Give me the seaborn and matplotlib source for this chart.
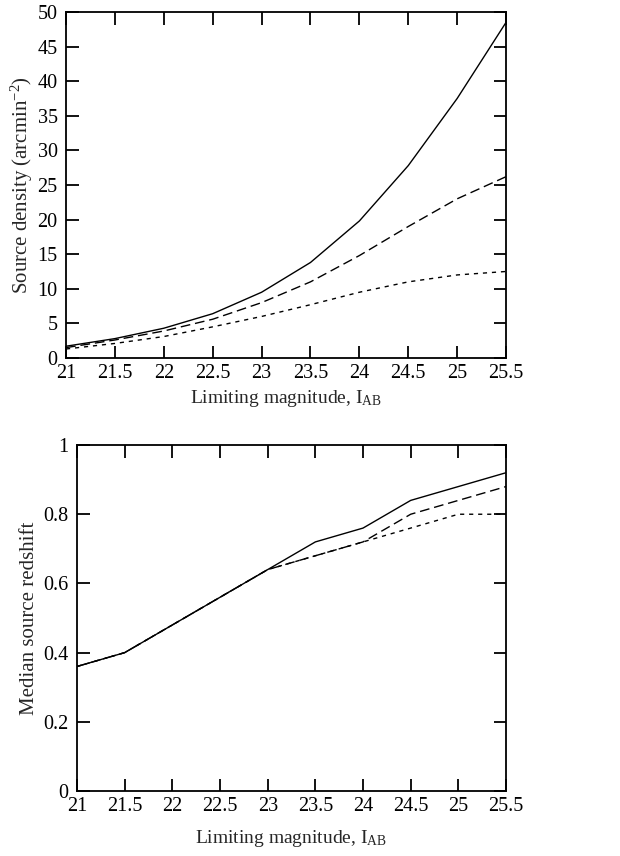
import matplotlib
matplotlib.use("Agg")
import matplotlib.pyplot as plt
import seaborn as sns
import pandas as pd

mags = [21, 21.5, 22, 22.5, 23, 23.5, 24, 24.5, 25, 25.5]
density_solid = [1.7, 2.8, 4.3, 6.4, 9.5, 13.8, 19.8, 27.8, 37.5, 48.5]
density_dashed = [1.5, 2.6, 3.9, 5.6, 8.0, 11.0, 14.8, 19.0, 23.0, 26.2]
density_dotted = [1.3, 2.1, 3.1, 4.5, 6.0, 7.7, 9.5, 11.0, 12.0, 12.5]

z_solid = [0.36, 0.40, 0.48, 0.56, 0.64, 0.72, 0.76, 0.84, 0.88, 0.92]
z_dashed = [0.36, 0.40, 0.48, 0.56, 0.64, 0.68, 0.72, 0.80, 0.84, 0.88]
z_dotted = [0.36, 0.40, 0.48, 0.56, 0.64, 0.68, 0.72, 0.76, 0.80, 0.80]

series_names = ["solid", "dashed", "dotted"]
xticks = [21, 21.5, 22, 22.5, 23, 23.5, 24, 24.5, 25, 25.5]
xticklabels = ["21", "21.5", "22", "22.5", "23", "23.5", "24", "24.5", "25", "25.5"]

sns.set_style("ticks")
plt.rcParams["font.family"] = ["Liberation Serif", "DejaVu Serif"]
plt.rcParams["mathtext.fontset"] = "custom"
plt.rcParams["mathtext.rm"] = "Liberation Serif"
plt.rcParams["mathtext.it"] = "Liberation Serif:italic"
plt.rcParams["font.size"] = 14

def long_df(vals):
    rows = []
    for name, v in zip(series_names, vals):
        for x, y in zip(mags, v):
            rows.append({"mag": x, "val": y, "kind": name})
    return pd.DataFrame(rows)

dashes = {"solid": "", "dashed": (7, 3.5), "dotted": (3, 3.5)}
palette = {"solid": "black", "dashed": "black", "dotted": "black"}

fig = plt.figure(figsize=(6.2, 8.56), dpi=100)
ax1 = fig.add_axes([0.1065, 0.5818, 0.7097, 0.4042])
ax2 = fig.add_axes([0.1242, 0.0759, 0.692, 0.4042])

df1 = long_df([density_solid, density_dashed, density_dotted])
df2 = long_df([z_solid, z_dashed, z_dotted])

for ax, df in [(ax1, df1), (ax2, df2)]:
    sns.lineplot(data=df, x="mag", y="val", hue="kind", style="kind",
                 dashes=dashes, palette=palette, linewidth=1.0,
                 legend=False, ax=ax)
    ax.set_xlim(21, 25.5)
    ax.set_xticks(xticks)
    ax.set_xticklabels(xticklabels)
    ax.tick_params(direction="in", length=9, width=1.3, top=True, right=True,
                   labelsize=14.5, colors="black")
    ax.tick_params(axis="x", pad=4)
    ax.tick_params(axis="y", pad=6)
    for s in ax.spines.values():
        s.set_linewidth(1.3)
        s.set_color("black")
        s.set_visible(True)

ax1.set_ylim(0, 50)
ax1.set_yticks(range(0, 51, 5))
ax1.set_ylabel("Source density (arcmin$^{-2}$)", fontsize=15, labelpad=2)
ax1.set_xlabel(r"Limiting magnitude, I$_{\mathrm{AB}}$", fontsize=14, labelpad=4)

ax2.set_ylim(0, 1)
ax2.set_yticks([0, 0.2, 0.4, 0.6, 0.8, 1.0])
ax2.set_yticklabels(["0", "0.2", "0.4", "0.6", "0.8", "1"])
ax2.set_ylabel("Median source redshift", fontsize=15, labelpad=3)
ax2.set_xlabel(r"Limiting magnitude, I$_{\mathrm{AB}}$", fontsize=14, labelpad=9)

fig.savefig("out.png", dpi=100, facecolor="white")
